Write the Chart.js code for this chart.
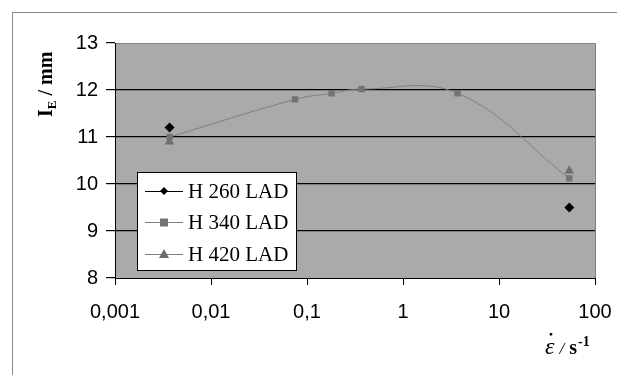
<!DOCTYPE html>
<html>
<head>
<meta charset="utf-8">
<script src="https://cdn.jsdelivr.net/npm/chart.js@4"></script>
<style>
  html, body { margin: 0; padding: 0; background: #fff; }
  #wrap { width: 617px; height: 375px; position: relative; }
</style>
</head>
<body>
<div id="wrap"><canvas id="chart"></canvas></div>
<script>
// values
const seriesNames = ['H 260 LAD', 'H 340 LAD', 'H 420 LAD'];

const h260Rates = [0.0037, 54];
const h260Lengths = [11.2, 9.5];

const h340Rates = [0.0037, 0.075, 0.18, 0.37, 3.7, 54];
const h340Lengths = [11.0, 11.8, 11.93, 12.02, 11.93, 10.12];

const h420Rates = [0.0037, 54];
const h420Lengths = [10.9, 10.28];

const xTicks = [0.001, 0.01, 0.1, 1, 10, 100];
const xTickLabels = ['0,001', '0,01', '0,1', '1', '10', '100'];
const yTicks = [8, 9, 10, 11, 12, 13];

const toPoints = (xs, ys) => xs.map((x, i) => ({ x: x, y: ys[i] }));

const TICK_FONT = { family: 'Liberation Sans', size: 20 };
const SERIF = 'Liberation Serif';

// grey plot area + outer frame
const backdrop = {
    id: 'backdrop',
    beforeDraw(chart) {
        const { ctx, chartArea: a } = chart;
        ctx.save();
        ctx.fillStyle = '#fff';
        ctx.fillRect(0, 0, chart.width, chart.height);
        ctx.strokeStyle = '#888';
        ctx.lineWidth = 1;
        ctx.strokeRect(12.5, 12.5, chart.width, chart.height);
        ctx.fillStyle = '#aaaaaa';
        ctx.fillRect(a.left, a.top, a.right - a.left, a.bottom - a.top);
        ctx.strokeStyle = '#808080';
        ctx.beginPath();
        ctx.moveTo(a.left, a.top + 0.5);
        ctx.lineTo(a.right + 0.5, a.top + 0.5);
        ctx.lineTo(a.right + 0.5, a.bottom);
        ctx.stroke();
        ctx.restore();
    }
};

// axis titles and the legend box
const annotations = {
    id: 'annotations',
    afterDraw(chart) {
        const { ctx } = chart;
        ctx.save();
        ctx.fillStyle = '#000';
        ctx.textBaseline = 'alphabetic';

        // y title: I_E / mm, rotated
        ctx.save();
        ctx.translate(52, 117);
        ctx.rotate(-Math.PI / 2);
        ctx.font = 'bold 20px ' + SERIF;
        ctx.textAlign = 'left';
        ctx.fillText('I', 0, 0);
        let w = ctx.measureText('I').width;
        ctx.font = 'bold 13px ' + SERIF;
        ctx.fillText('E', w, 4);
        w += ctx.measureText('E').width;
        ctx.font = 'bold 20px ' + SERIF;
        ctx.fillText(' / mm', w, 0);
        ctx.restore();

        // x title: eps-dot / s^-1
        let x = 545;
        const y = 354;
        ctx.font = 'italic 24px ' + SERIF;
        ctx.fillText('\u03B5', x, y);
        const ew = ctx.measureText('\u03B5').width;
        ctx.fillRect(x + ew / 2, y - 21, 2.5, 2.5);
        x += ew + 5;
        ctx.font = 'italic 17px ' + SERIF;
        ctx.fillText('/', x, y);
        x += ctx.measureText('/').width + 5;
        ctx.font = 'bold 20px ' + SERIF;
        ctx.fillText('s', x, y);
        x += ctx.measureText('s').width + 1;
        ctx.font = 'bold 14px ' + SERIF;
        ctx.fillText('-1', x, y - 8);

        // legend
        const box = { l: 137.5, t: 172.5, r: 296.5, b: 270.5 };
        ctx.fillStyle = '#fff';
        ctx.fillRect(box.l, box.t, box.r - box.l, box.b - box.t);
        ctx.strokeStyle = '#000';
        ctx.lineWidth = 1;
        ctx.strokeRect(box.l, box.t, box.r - box.l, box.b - box.t);
        const rowsY = [191, 222, 254];
        chart.data.datasets.forEach((ds, i) => {
            const ry = rowsY[i];
            ctx.strokeStyle = ds.legendLine;
            ctx.lineWidth = 1;
            ctx.beginPath();
            ctx.moveTo(145, ry + 0.5);
            ctx.lineTo(183, ry + 0.5);
            ctx.stroke();
            ctx.fillStyle = ds.pointBackgroundColor;
            ctx.beginPath();
            if (ds.pointStyle === 'rectRot') {
                ctx.moveTo(164, ry - 4); ctx.lineTo(168, ry); ctx.lineTo(164, ry + 4); ctx.lineTo(160, ry);
            } else if (ds.pointStyle === 'rect') {
                ctx.rect(160, ry - 3.5, 8, 8);
            } else {
                ctx.moveTo(164, ry - 5); ctx.lineTo(169, ry + 4); ctx.lineTo(159, ry + 4);
            }
            ctx.closePath();
            ctx.fill();
            ctx.fillStyle = '#000';
            ctx.font = '21px ' + SERIF;
            ctx.textBaseline = 'middle';
            ctx.fillText(ds.label, 188, ry + 1);
        });
        ctx.restore();
    }
};

new Chart(document.getElementById('chart'), {
    type: 'scatter',
    data: {
        datasets: [
            {
                label: seriesNames[0],
                data: toPoints(h260Rates, h260Lengths),
                showLine: false,
                pointStyle: 'rectRot',
                pointRadius: 5,
                pointBackgroundColor: '#000',
                pointBorderColor: '#000',
                pointBorderWidth: 0,
                legendLine: '#000',
                order: 0
            },
            {
                label: seriesNames[1],
                data: toPoints(h340Rates, h340Lengths),
                showLine: true,
                tension: 0.4,
                borderColor: '#808080',
                borderWidth: 1,
                pointStyle: 'rect',
                pointRadius: 4.5,
                pointBackgroundColor: '#737373',
                pointBorderColor: '#737373',
                pointBorderWidth: 0,
                legendLine: '#808080',
                order: 2
            },
            {
                label: seriesNames[2],
                data: toPoints(h420Rates, h420Lengths),
                showLine: false,
                pointStyle: 'triangle',
                pointRadius: 5.5,
                pointBackgroundColor: '#6e6e6e',
                pointBorderColor: '#6e6e6e',
                pointBorderWidth: 0,
                legendLine: '#808080',
                order: 1
            }
        ]
    },
    options: {
        responsive: true,
        maintainAspectRatio: false,
        animation: false,
        events: [],
        layout: { padding: { left: 0, right: 22, top: 43, bottom: 0 } },
        plugins: {
            legend: { display: false },
            tooltip: { enabled: false }
        },
        scales: {
            x: {
                type: 'logarithmic',
                min: 0.001,
                max: 100,
                afterBuildTicks: (axis) => { axis.ticks = xTicks.map(v => ({ value: v })); },
                afterFit: (axis) => {
                    axis.height = 97;
                    axis.paddingLeft = 0;
                    axis.paddingRight = 0;
                },
                ticks: {
                    autoSkip: false,
                    maxRotation: 0,
                    color: '#000',
                    font: TICK_FONT,
                    padding: 15,
                    callback: (value) => {
                        const i = xTicks.findIndex(t => Math.abs(t - value) / t < 1e-6);
                        return i >= 0 ? xTickLabels[i] : '';
                    }
                },
                grid: { drawOnChartArea: false, drawTicks: true, tickLength: 7, tickColor: '#000' },
                border: { display: true, color: '#000', width: 1 }
            },
            y: {
                min: 8,
                max: 13,
                afterBuildTicks: (axis) => { axis.ticks = yTicks.map(v => ({ value: v })); },
                afterFit: (axis) => { axis.width = 115; },
                ticks: { color: '#000', font: TICK_FONT, padding: 8 },
                grid: {
                    color: (c) => (c.tick && c.tick.value > 8 && c.tick.value < 13) ? '#000' : 'rgba(0,0,0,0)',
                    lineWidth: 1.2,
                    drawTicks: true,
                    tickLength: 9,
                    tickColor: '#000'
                },
                border: { display: true, color: '#000', width: 1 }
            }
        }
    },
    plugins: [backdrop, annotations]
});
</script>
</body>
</html>
